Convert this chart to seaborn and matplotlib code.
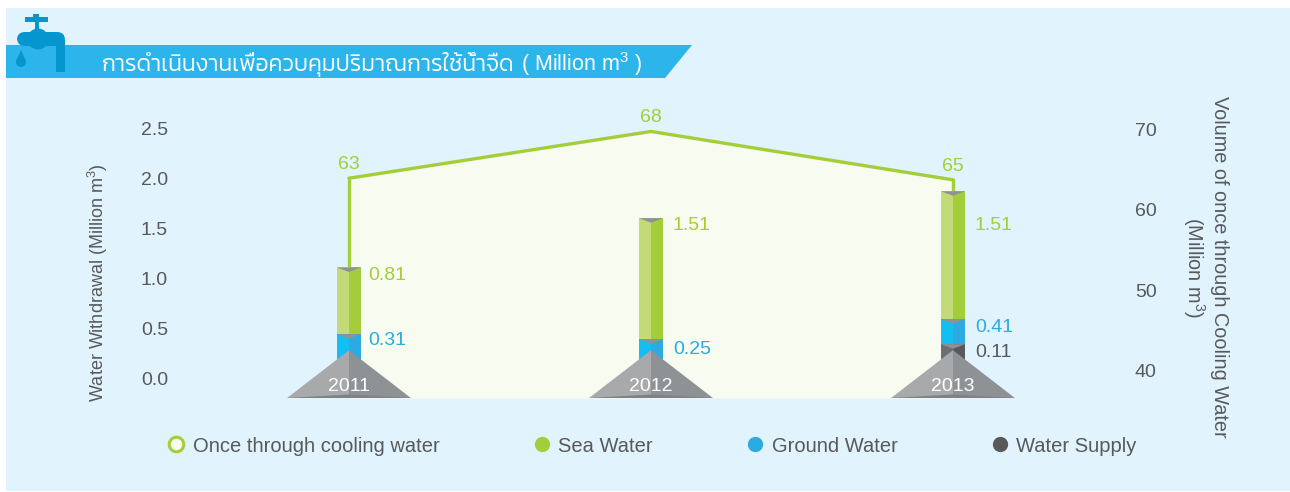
import numpy as np
import pandas as pd
import seaborn as sns
import matplotlib.pyplot as plt
from matplotlib.lines import Line2D
from matplotlib.patches import Circle, Polygon, Rectangle, FancyBboxPatch

years = ['2011', '2012', '2013']
# bar heights as drawn on the left axis (the picture is not to scale with its labels)
supply_drawn = [0.0, 0.0, 0.34]
ground_drawn = [0.44, 0.39, 0.25]
sea_drawn = [0.67, 1.215, 1.285]
# line as drawn on the right axis
cooling_drawn = [63.9, 69.7, 63.7]

cooling_labels = ['63', '68', '65']
sea_labels = ['0.81', '1.51', '1.51']
ground_labels = ['0.31', '0.25', '0.41']
supply_labels = ['', '', '0.11']

sea_label_y = [1.03, 1.53, 1.53]
ground_label_y = [0.38, 0.29, 0.51]
supply_label_y = [0, 0, 0.26]
label_dx = [19, 22, 22]

GREEN = '#A4CE39'
BLUE = '#2CAAE2'
GREY = '#58595B'

sns.set_style('white')
plt.rcParams['font.family'] = ['Liberation Sans', 'DejaVu Sans']
plt.rcParams['mathtext.default'] = 'regular'

W, H = 1290, 492
fig = plt.figure(figsize=(W / 100, H / 100), dpi=100, facecolor='white')

# page furniture in pixel coordinates
bg = fig.add_axes([0, 0, 1, 1], zorder=-5)
bg.set_xlim(0, W)
bg.set_ylim(H, 0)
bg.axis('off')
bg.add_patch(Rectangle((6, 8), 1284, 483, fc='#E1F3FC', ec='none'))
bg.add_patch(Polygon([(6, 45), (692, 45), (665, 78), (6, 78)], fc='#2CB5EB', ec='none'))
ICON = '#0596CF'
bg.add_patch(Rectangle((25, 17), 23, 5, fc=ICON, ec='none'))
bg.add_patch(Rectangle((33, 14), 6, 3, fc=ICON, ec='none'))
bg.add_patch(Rectangle((35, 15), 4, 17, fc=ICON, ec='none'))
bg.add_patch(FancyBboxPatch((17, 32), 48, 14, boxstyle='round,pad=0,rounding_size=8', fc=ICON, ec='none'))
bg.add_patch(Circle((38, 39), 10.5, fc=ICON, ec='none'))
bg.add_patch(Rectangle((56, 40), 9, 32, fc=ICON, ec='none'))
bg.add_patch(Circle((21, 62), 5, fc=ICON, ec='none'))
bg.add_patch(Polygon([(16.5, 60), (21, 50), (25.5, 60)], fc=ICON, ec='none'))
bg.text(102, 71, 'การดำเนินงานเพื่อควบคุมปริมาณการใช้น้ำจืด', color='white', fontsize=16.5,
        family=['Kanit', 'Athiti', 'DejaVu Sans'], weight=300, va='baseline', ha='left')
bg.text(521, 71, '( Million m$^3$ )', color='white', fontsize=15.5, va='baseline', ha='left')

ax = fig.add_axes([175 / W, 1 - 398 / H, 955 / W, 298 / H])
ax2 = ax.twinx()
ax.set_zorder(ax2.get_zorder() + 1)
ax.patch.set_visible(False)
ax2.patch.set_visible(False)

# stacked half bars, painted back to front from cumulative totals
supply = np.array(supply_drawn)
ground = supply + np.array(ground_drawn)
sea = ground + np.array(sea_drawn)
layers = [(sea, '#C2DA78', GREEN), (ground, '#12BEF2', BLUE), (supply, '#6D6E70', GREY)]
BAR_W = 24 / 302
for tops, light, dark in layers:
    df = pd.DataFrame({'year': years * 2, 'top': list(tops) * 2,
                       'side': ['l'] * 3 + ['r'] * 3})
    sns.barplot(data=df, x='year', y='top', hue='side', palette={'l': light, 'r': dark},
                width=BAR_W, gap=0, saturation=1, errorbar=None, legend=False, linewidth=0, ax=ax)

ax.set_xlim(-174 / 302, 781 / 302)
ax.set_ylim(-0.2, 2.791)
ax2.set_ylim(36.65, 73.6)
ax.set_yticks([0, 0.5, 1, 1.5, 2, 2.5])
ax.set_yticklabels(['0.0', '0.5', '1.0', '1.5', '2.0', '2.5'])
ax2.set_yticks([40, 50, 60, 70])
ax.set_xticks([])
ax.set_xlabel('')
ax.set_ylabel('')
ax.tick_params(axis='y', length=0, pad=5, labelsize=14, labelcolor=GREY)
ax2.tick_params(axis='y', length=0, pad=3.5, labelsize=14, labelcolor=GREY)
sns.despine(ax=ax, left=True, bottom=True, right=True, top=True)
sns.despine(ax=ax2, left=True, bottom=True, right=True, top=True)
ax.grid(False)
ax2.grid(False)

# cooling water line and the pale area under it
xs = np.arange(len(years))
ax2.fill_between(xs, cooling_drawn, 36.65, color='#F7FBF0', lw=0, zorder=1)
sns.lineplot(x=xs, y=cooling_drawn, color=GREEN, lw=2.4, ax=ax2, zorder=3, errorbar=None)
for i in [0, 2]:
    top_y = ax.transData.transform((0, sea[i]))[1]
    ax2_y = ax2.transData.inverted().transform((0, top_y))[1]
    ax2.plot([i, i], [ax2_y, cooling_drawn[i]], color=GREEN, lw=2.4, zorder=3,
             solid_capstyle='projecting')
for i, t in enumerate(cooling_labels):
    ax2.annotate(t, (i, cooling_drawn[i]), xytext=(0, 3.7), textcoords='offset points',
                 ha='center', va='bottom', color=GREEN, fontsize=14)

# little notches on the segments, pyramids with the years
for i, year in enumerate(years):
    segs = [sea[i], ground[i]] + ([supply[i]] if supply[i] > 0 else [])
    for top in segs:
        ax.add_patch(Polygon([(i - 0.04, top), (i + 0.04, top), (i, top - 0.045)],
                             fc='#8F9295', ec='none', zorder=5))
    ax.add_patch(Polygon([(i - 0.205, -0.2), (i, 0.28), (i, -0.2)], fc='#A7A9AB', ec='none', zorder=6))
    ax.add_patch(Polygon([(i + 0.205, -0.2), (i, 0.28), (i, -0.2)], fc='#8F9295', ec='none', zorder=6))
    ax.add_patch(Polygon([(i - 0.205, -0.2), (i, -0.165), (i + 0.205, -0.2)], fc='#7F8184', ec='none', zorder=7))
    ax.text(i, -0.08, year, color='white', fontsize=14, ha='center', va='center', zorder=8)

# value labels
for lab, ys, col in [(sea_labels, sea_label_y, GREEN), (ground_labels, ground_label_y, BLUE),
                     (supply_labels, supply_label_y, GREY)]:
    for i, t in enumerate(lab):
        if t:
            ax.text(i + label_dx[i] / 302, ys[i], t, color=col, fontsize=14, ha='left', va='center', zorder=8)

fig.text(98 / W, 1 - 283 / H, 'Water Withdrawal (Million m$^3$)', rotation=90, color=GREY,
         fontsize=13, ha='center', va='center')
fig.text(1205 / W, 1 - 267 / H, 'Volume of once through Cooling Water\n(Million m$^3$)', rotation=270,
         color=GREY, fontsize=14.3, ha='center', va='center', multialignment='center')

handles = [
    Line2D([], [], ls='', marker='o', ms=10.5, mfc='#F7FBF0', mec=GREEN, mew=2.2, label='Once through cooling water'),
    Line2D([], [], ls='', marker='o', ms=11, mfc=GREEN, mec=GREEN, mew=0, label='Sea Water'),
    Line2D([], [], ls='', marker='o', ms=11, mfc=BLUE, mec=BLUE, mew=0, label='Ground Water'),
    Line2D([], [], ls='', marker='o', ms=11, mfc=GREY, mec=GREY, mew=0, label='Water Supply'),
]
leg = fig.legend(handles=handles, ncol=4, loc='center', bbox_to_anchor=(650.5 / W, 1 - 446 / H), frameon=False,
                 fontsize=14.5, labelcolor=GREY, columnspacing=4.5, handletextpad=0.2, handlelength=1.2,
                 borderpad=0, borderaxespad=0)

fig.savefig('out.png', dpi=100)
